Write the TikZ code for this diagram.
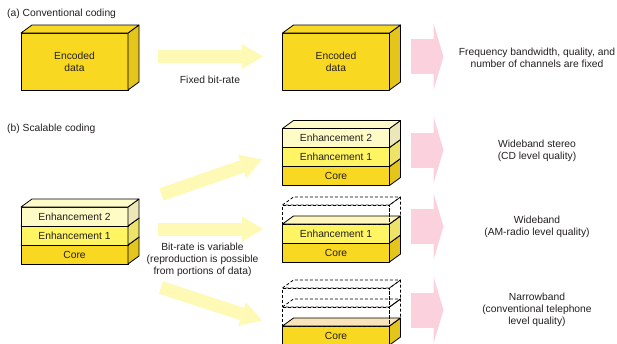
\documentclass[tikz,border=0pt]{standalone}
\usepackage{fontspec}
\setmainfont{Liberation Sans}
\usetikzlibrary{arrows.meta,positioning}
\definecolor{scCore}{HTML}{F8D820}
\definecolor{scCoreSide}{HTML}{E4C51C}
\definecolor{scCoreTop}{HTML}{FBE3B9}
\definecolor{scEnhOne}{HTML}{FFF462}
\definecolor{scEnhOneSide}{HTML}{EDE36A}
\definecolor{scEnhOneTop}{HTML}{FFF6BE}
\definecolor{scEnhTwo}{HTML}{FFFBC6}
\definecolor{scEnhTwoSide}{HTML}{ECE6B8}
\definecolor{scRate}{HTML}{FFF9B6}
\definecolor{scQuality}{HTML}{FAD1DD}
\definecolor{scText}{HTML}{231F20}
\newcommand\sclabel{\fontsize{10.3bp}{12.3bp}\selectfont}
% side and top faces of a slab node (depth 11 across, 8 up)
\newcommand\slabfaces[3]{%
  \draw[sc edge, #2] (#1.south east) -- ++(11,-8) -- ([shift={(11,-8)}]#1.north east) -- (#1.north east) -- cycle;
  \draw[sc edge, #3] (#1.north west) -- ++(11,-8) -- ([shift={(11,-8)}]#1.north east) -- (#1.north east) -- cycle;
}
\tikzset{
  sc edge/.style={draw=black, line width=0.8pt, line join=round},
  sc ghost/.style={sc edge, dash pattern=on 3bp off 2bp},
  sc layer/.style={sc edge, minimum width=107bp, minimum height=19bp, inner sep=0pt, outer sep=0pt, font=\sclabel, text=scText},
  sc block/.style={sc edge, fill=scCore, minimum width=107bp, minimum height=57bp, inner sep=0pt, outer sep=0pt, align=center, font=\sclabel, text=scText},
  sc text/.style={align=center, font=\sclabel, text=scText, inner sep=0pt},
  sc title/.style={anchor=west, font=\sclabel, text=scText, inner sep=0pt},
  rate arrow/.style={draw=scRate, line width=13bp, -{Triangle[length=21bp,width=25bp,line width=0pt]}},
  quality arrow/.style={draw=scQuality, line width=35bp, -{Triangle[length=10bp,width=67bp,line width=0pt]}},
}
\begin{document}
\begin{tikzpicture}[x=1bp,y=-1bp]
  \useasboundingbox (0,0) rectangle (617,343);

  % (a) one block, one rate
  \node[sc title] (titleA) at (7,14) {(a) Conventional coding};
  \node[sc block] (encIn) at (74.5,61.5) {Encoded\\data};
  \slabfaces{encIn}{fill=scCoreSide}{fill=scCore}
  \node[sc block] (encOut) at (336,61.5) {Encoded\\data};
  \slabfaces{encOut}{fill=scCoreSide}{fill=scCore}
  \coordinate (fixTail) at (158,56.5);
  \coordinate (fixTip) at (263,56.5);
  \draw[rate arrow] (fixTail) -- (fixTip);
  \node[sc text] (fixLbl) at (210,80) {Fixed bit-rate};
  \coordinate (qaTail) at (411,56.7);
  \coordinate (qaTip) at (443.5,56.7);
  \draw[quality arrow] (qaTail) -- (qaTip);
  \node[sc text] (qaLbl) at (537,57.5) {Frequency bandwidth, quality, and\\number of channels are fixed};

  % (b) layered stream
  \node[sc title] (titleB) at (7,129) {(b) Scalable coding};
  \node[sc layer, fill=scCore] (inCore) at (74.5,254.5) {Core};
  \slabfaces{inCore}{fill=scCoreSide}{fill=scCoreTop}
  \node[sc layer, fill=scEnhOne, above=0pt of inCore] (inEnhOne) {Enhancement 1};
  \slabfaces{inEnhOne}{fill=scEnhOneSide}{fill=scEnhOneTop}
  \node[sc layer, fill=scEnhTwo, above=0pt of inEnhOne] (inEnhTwo) {Enhancement 2};
  \slabfaces{inEnhTwo}{fill=scEnhTwoSide}{fill=scEnhTwo}

  % full stream
  \node[sc layer, fill=scCore] (aCore) at (336,176) {Core};
  \slabfaces{aCore}{fill=scCoreSide}{fill=scCoreTop}
  \node[sc layer, fill=scEnhOne, above=0pt of aCore] (aEnhOne) {Enhancement 1};
  \slabfaces{aEnhOne}{fill=scEnhOneSide}{fill=scEnhOneTop}
  \node[sc layer, fill=scEnhTwo, above=0pt of aEnhOne] (aEnhTwo) {Enhancement 2};
  \slabfaces{aEnhTwo}{fill=scEnhTwoSide}{fill=scEnhTwo}

  % core + enhancement 1
  \node[sc layer, fill=scCore] (bCore) at (336,252.5) {Core};
  \slabfaces{bCore}{fill=scCoreSide}{fill=scCoreTop}
  \node[sc layer, fill=scEnhOne, above=0pt of bCore] (bEnhOne) {Enhancement 1};
  \slabfaces{bEnhOne}{fill=scEnhOneSide}{fill=scEnhOneTop}
  \node[sc layer, sc ghost, above=0pt of bEnhOne] (bGhost) {};
  \slabfaces{bGhost}{sc ghost}{sc ghost}

  % core only
  \node[sc layer, fill=scCore] (cCore) at (336,335.5) {Core};
  \slabfaces{cCore}{fill=scCoreSide}{fill=scCoreTop}
  \node[sc layer, sc ghost, above=0pt of cCore] (cGhostOne) {};
  \slabfaces{cGhostOne}{sc ghost}{sc ghost}
  \node[sc layer, sc ghost, above=0pt of cGhostOne] (cGhostTwo) {};
  \slabfaces{cGhostTwo}{sc ghost}{sc ghost}

  % bit-rate arrows
  \coordinate (upTail) at (161.5,194.4);
  \coordinate (upTip) at (262,159.5);
  \coordinate (midTail) at (158,229);
  \coordinate (midTip) at (263,229);
  \coordinate (lowTail) at (161,287.5);
  \coordinate (lowTip) at (262,320.5);
  \draw[rate arrow] (upTail) -- (upTip);
  \draw[rate arrow] (midTail) -- (midTip);
  \draw[rate arrow] (lowTail) -- (lowTip);
  \node[sc text] (varLbl) at (202.5,260) {Bit-rate is variable\\(reproduction is possible\\from portions of data)};

  % resulting quality
  \coordinate (qbTail) at (411,150);
  \coordinate (qbTip) at (443.5,150);
  \coordinate (qcTail) at (411,226.5);
  \coordinate (qcTip) at (443.5,226.5);
  \coordinate (qdTail) at (411,310);
  \coordinate (qdTip) at (443.5,310);
  \draw[quality arrow] (qbTail) -- (qbTip);
  \draw[quality arrow] (qcTail) -- (qcTip);
  \draw[quality arrow] (qdTail) -- (qdTip);
  \node[sc text] (qbLbl) at (537,150.5) {Wideband stereo\\(CD level quality)};
  \node[sc text] (qcLbl) at (537,227) {Wideband\\(AM-radio level quality)};
  \node[sc text] (qdLbl) at (537,309.7) {Narrowband\\(conventional telephone\\level quality)};
\end{tikzpicture}
\end{document}
